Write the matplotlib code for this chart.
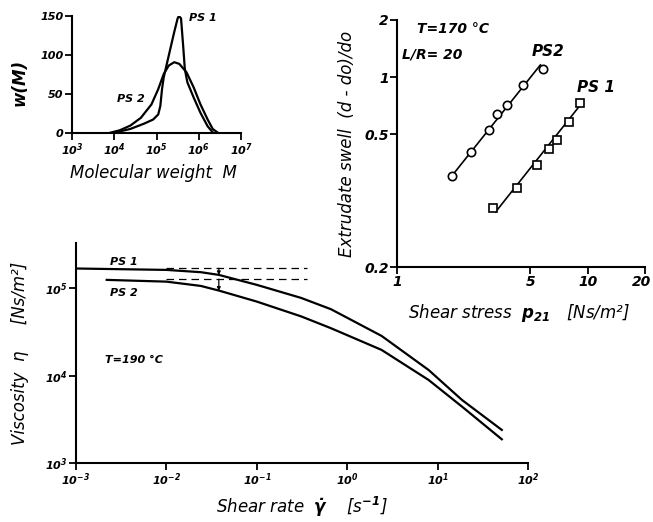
import matplotlib
matplotlib.use("Agg")
import matplotlib.pyplot as plt
import matplotlib.transforms as mtransforms
import numpy as np

plt.rcParams['font.family'] = 'DejaVu Sans'
plt.rcParams['font.style'] = 'italic'
plt.rcParams['mathtext.fontset'] = 'custom'
plt.rcParams['mathtext.rm'] = 'DejaVu Sans:italic:bold'
plt.rcParams['mathtext.it'] = 'DejaVu Sans:italic:bold'
plt.rcParams['mathtext.bf'] = 'DejaVu Sans:italic:bold'

# --- molecular weight distribution (log10 M, w(M)) ---
mwd_ps1_logm = [4.04, 4.38, 4.71, 4.92, 5.04, 5.09, 5.13, 5.17, 5.29, 5.42, 5.50, 5.53,
                5.58, 5.63, 5.67, 5.73, 5.88, 6.04, 6.21, 6.33]
mwd_ps1_w = [0.9, 5.2, 12.1, 17.3, 23.8, 34.6, 56.2, 71.3, 99.4, 129.7, 147, 150,
             147, 112, 82, 65, 45.4, 25.9, 8.6, 0.9]
mwd_ps2_logm = [3.88, 4.13, 4.38, 4.63, 4.88, 5.04, 5.17, 5.29, 5.42, 5.54, 5.71, 5.88,
                6.04, 6.21, 6.33, 6.46]
mwd_ps2_w = [0, 3.5, 9.5, 19.5, 36.7, 56.2, 75.6, 86.5, 90.8, 88.6, 77.8, 58.4,
             36.7, 17.3, 5.2, 0]

# --- extrudate swell vs shear stress ---
swell_ps2_x = [1.94, 2.43, 3.02, 3.35, 3.77, 4.60, 5.86]
swell_ps2_y = [0.302, 0.404, 0.526, 0.640, 0.717, 0.904, 1.107]
swell_ps1_x = [3.18, 4.27, 5.43, 6.25, 6.94, 7.96, 9.12]
swell_ps1_y = [0.204, 0.262, 0.344, 0.416, 0.466, 0.578, 0.728]
fit_ps2_x = [1.94, 5.65]
fit_ps2_y = [0.302, 1.16]
fit_ps1_x = [3.29, 9.12]
fit_ps1_y = [0.195, 0.71]

# --- viscosity vs shear rate (log10 values) ---
visc_ps1_logx = [-3.0, -2.0, -1.62, -1.42, -1.0, -0.51, -0.18, 0.38, 0.90, 1.27, 1.71]
visc_ps1_logy = [5.225, 5.209, 5.183, 5.152, 5.038, 4.889, 4.760, 4.455, 4.066, 3.723, 3.381]
visc_ps2_logx = [-2.66, -2.0, -1.62, -1.42, -1.0, -0.51, -0.18, 0.38, 0.90, 1.27, 1.71]
visc_ps2_logy = [5.095, 5.075, 5.026, 4.973, 4.847, 4.678, 4.543, 4.295, 3.952, 3.647, 3.274]
eta0 = [10 ** 5.229, 10 ** 5.103]
dash_range = [1e-2, 0.36]
arrow_rate = 0.038

fig = plt.figure(figsize=(6.53, 5.22), dpi=100)


def style_axes(ax, fs):
    ax.patch.set_alpha(0)
    for s in ['top', 'right']:
        ax.spines[s].set_visible(False)
    for s in ['left', 'bottom']:
        ax.spines[s].set_linewidth(1.5)
    ax.tick_params(which='major', direction='out', length=5, width=1.3, labelsize=fs, pad=1)
    ax.tick_params(which='minor', length=0)
    for lab in ax.get_xticklabels() + ax.get_yticklabels():
        lab.set_fontweight('bold')
        lab.set_fontstyle('italic')


# ---------------- panel 1: MWD ----------------
ax1 = fig.add_axes([0.1103, 0.7452, 0.2588, 0.2241])
ax1.plot(10 ** np.array(mwd_ps1_logm), mwd_ps1_w, color='black', lw=1.6)
ax1.plot(10 ** np.array(mwd_ps2_logm), mwd_ps2_w, color='black', lw=1.6)
ax1.set_xscale('log')
ax1.set_xlim(1e3, 1e7)
ax1.set_ylim(0, 150)
ax1.set_xticks([1e3, 1e4, 1e5, 1e6, 1e7])
ax1.set_xticklabels(['$10^3$', '$10^4$', '$10^5$', '$10^6$', '$10^7$'])
ax1.set_yticks([0, 50, 100, 150])
style_axes(ax1, 8)
ax1.set_xlabel('Molecular weight  M', fontsize=12, va='center')
ax1.xaxis.set_label_coords(0.48, -0.34)
ax1.set_ylabel('w(M)', fontsize=12, fontweight='bold', va='center')
ax1.yaxis.set_label_coords(-0.31, 0.43)
ax1.text(5.9e5, 147, 'PS 1', fontsize=8, fontweight='bold', va='center')
ax1.text(1.16e4, 43.6, 'PS 2', fontsize=8, fontweight='bold', va='center')

# ---------------- panel 2: swell ----------------
ax2 = fig.add_axes([0.6080, 0.4885, 0.3798, 0.4732])
ax2.plot(fit_ps2_x, fit_ps2_y, color='black', lw=1.2)
ax2.plot(fit_ps1_x, fit_ps1_y, color='black', lw=1.2)
ax2.plot(swell_ps2_x, swell_ps2_y, 'o', ms=6, mfc='white', mec='black', mew=1.2)
ax2.plot(swell_ps1_x, swell_ps1_y, 's', ms=6, mfc='white', mec='black', mew=1.2)
ax2.set_xscale('log')
ax2.set_yscale('log')
ax2.set_xlim(1, 20)
ax2.set_ylim(0.1, 2)
ax2.set_xticks([1, 5, 10, 20])
ax2.set_xticklabels(['1', '5', '10', '20'])
ax2.set_yticks([0.1, 0.5, 1, 2])
ax2.set_yticklabels(['0.2', '0.5', '1', '2'])
style_axes(ax2, 10)
# keep the last label inside the canvas
last = ax2.get_xticklabels()[-1]
last.set_transform(last.get_transform() +
                   mtransforms.ScaledTranslation(-4 / 100, 0, fig.dpi_scale_trans))
ax2.set_xlabel('Shear stress  $p_{21}$   [Ns/m²]', fontsize=12, va='center')
ax2.xaxis.set_label_coords(0.49, -0.185)
ax2.set_ylabel('Extrudate swell  (d - do)/do', fontsize=12, va='center')
ax2.yaxis.set_label_coords(-0.2, 0.5)
ax2.text(1.27, 1.80, 'T=170 °C', fontsize=10, fontweight='bold', va='center')
ax2.text(1.06, 1.31, 'L/R= 20', fontsize=10, fontweight='bold', va='center')
ax2.text(5.09, 1.36, 'PS2', fontsize=11, fontweight='bold', va='center')
ax2.text(8.76, 0.885, 'PS 1', fontsize=11, fontweight='bold', va='center')

# ---------------- panel 3: viscosity ----------------
ax3 = fig.add_axes([0.1164, 0.1125, 0.6922, 0.4226])
ax3.plot(10 ** np.array(visc_ps1_logx), 10 ** np.array(visc_ps1_logy), color='black', lw=1.6)
ax3.plot(10 ** np.array(visc_ps2_logx), 10 ** np.array(visc_ps2_logy), color='black', lw=1.6)
for e in eta0:
    ax3.plot(dash_range, [e, e], color='black', lw=0.9, ls=(0, (6, 4)))
ax3.annotate('', xy=(arrow_rate, 10 ** 5.15), xytext=(arrow_rate, eta0[0]),
             arrowprops=dict(arrowstyle='-|>', color='black', lw=0.9,
                             mutation_scale=5, shrinkA=0, shrinkB=0))
ax3.annotate('', xy=(arrow_rate, 10 ** 4.97), xytext=(arrow_rate, eta0[1]),
             arrowprops=dict(arrowstyle='-|>', color='black', lw=0.9,
                             mutation_scale=5, shrinkA=0, shrinkB=0))
ax3.set_xscale('log')
ax3.set_yscale('log')
ax3.set_xlim(1e-3, 1e2)
ax3.set_ylim(1e3, 10 ** 5.52)
ax3.set_xticks([1e-3, 1e-2, 1e-1, 1e0, 1e1, 1e2])
ax3.set_xticklabels(['$10^{-3}$', '$10^{-2}$', '$10^{-1}$', '$10^0$', '$10^1$', '$10^2$'])
ax3.set_yticks([1e3, 1e4, 1e5])
ax3.set_yticklabels(['$10^3$', '$10^4$', '$10^5$'])
style_axes(ax3, 8)
ax3.set_xlabel('Shear rate  $\\dot{\\gamma}$    [s$^{-1}$]', fontsize=12, va='center')
ax3.xaxis.set_label_coords(0.5, -0.2)
ax3.set_ylabel('Viscosity  η     [Ns/m²]', fontsize=12, va='center')
ax3.yaxis.set_label_coords(-0.125, 0.5)
ax3.text(2.4e-3, 2.0e5, 'PS 1', fontsize=8, fontweight='bold', va='center')
ax3.text(2.4e-3, 8.8e4, 'PS 2', fontsize=8, fontweight='bold', va='center')
ax3.text(2.1e-3, 1.5e4, 'T=190 °C', fontsize=8, fontweight='bold', va='center')

fig.savefig('out.png', dpi=100)
